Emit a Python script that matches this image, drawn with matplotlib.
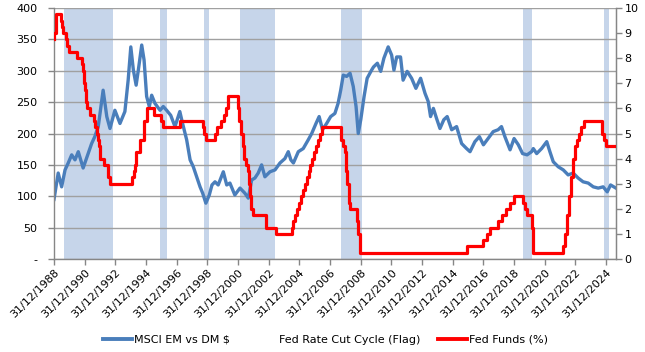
import matplotlib
matplotlib.use("Agg")
import matplotlib.pyplot as plt
from matplotlib.lines import Line2D
import pandas as pd

# ---------------- data ----------------
msci_dates = ["1988-12-31", "1989-04-10", "1989-07-01", "1989-09-20", "1989-12-05",
              "1990-02-25", "1990-05-15", "1990-08-01", "1990-11-25", "1991-03-25",
              "1991-06-15", "1991-08-30", "1991-11-20", "1992-03-15", "1992-06-10",
              "1992-08-25", "1992-12-20", "1993-04-20", "1993-08-15", "1993-11-01",
              "1994-01-03", "1994-03-05", "1994-05-10", "1994-07-01", "1994-09-20",
              "1994-11-15", "1995-01-15", "1995-03-20", "1995-05-15", "1995-08-01",
              "1995-11-30", "1996-02-15", "1996-05-05", "1996-08-10", "1996-11-20",
              "1997-03-15", "1997-05-20", "1997-08-25", "1997-11-15", "1998-01-30",
              "1998-04-20", "1998-07-10", "1998-09-10", "1998-11-25", "1999-02-15",
              "1999-04-20", "1999-07-01", "1999-09-15", "2000-01-15", "2000-04-05",
              "2000-06-20", "2000-10-15", "2001-02-15", "2001-06-10", "2001-09-01",
              "2001-11-20", "2002-02-05", "2002-04-25", "2002-07-15", "2002-10-01",
              "2003-01-30", "2003-05-30", "2003-09-25", "2004-01-20", "2004-04-10",
              "2004-06-10", "2004-08-10", "2004-12-05", "2005-04-01", "2005-07-30",
              "2005-10-20", "2006-01-30", "2006-04-15", "2006-07-05", "2006-10-10",
              "2007-01-15", "2007-04-25", "2007-07-10", "2007-09-10", "2007-11-10",
              "2008-01-30", "2008-04-20", "2008-07-05", "2008-09-10", "2008-11-01",
              "2008-12-31", "2009-03-20", "2009-06-01", "2009-09-15", "2009-10-30",
              "2010-01-30", "2010-04-20", "2010-07-05", "2010-10-15", "2011-01-05",
              "2011-03-01", "2011-05-05", "2011-08-05", "2011-10-05", "2012-01-10",
              "2012-04-25", "2012-08-05", "2012-11-25", "2013-03-10", "2013-05-25",
              "2013-07-20", "2013-09-25", "2013-12-10", "2014-03-01", "2014-06-01",
              "2014-08-20", "2014-12-05", "2015-04-01", "2015-07-30", "2015-11-25",
              "2016-02-15", "2016-06-10", "2016-09-25", "2016-12-30", "2017-04-20",
              "2017-08-20", "2017-12-15", "2018-03-05", "2018-05-25", "2018-09-25",
              "2018-12-30", "2019-04-10", "2019-07-20", "2019-11-05", "2020-02-20",
              "2020-04-01", "2020-06-20", "2020-10-15", "2021-02-15", "2021-05-01",
              "2021-07-20", "2021-11-15", "2022-03-15", "2022-07-10", "2022-11-05",
              "2023-03-05", "2023-07-01", "2023-10-30", "2024-02-28", "2024-06-25",
              "2024-10-20", "2025-01-25", "2025-04-15", "2025-08-20"]
msci_values = [95, 137, 115, 142, 153,
               166, 158, 171, 145, 168,
               184, 195, 211, 269, 227,
               208, 237, 216, 235, 285,
               338, 301, 277, 301, 341,
               317, 259, 243, 261, 248,
               237, 243, 237, 229, 211,
               235, 216, 190, 158, 147,
               131, 115, 105, 89, 102,
               118, 123, 118, 139, 118,
               121, 102, 113, 105, 97,
               126, 129, 137, 150, 131,
               139, 142, 153, 160, 171,
               158, 153, 171, 176, 190,
               200, 216, 227, 206, 216,
               227, 232, 248, 269, 293,
               291, 296, 275, 243, 200,
               222, 259, 288, 301, 306,
               312, 299, 320, 338, 325,
               301, 322, 322, 285, 299,
               288, 272, 288, 264, 251,
               227, 240, 224, 208, 222,
               227, 206, 211, 184, 176,
               171, 187, 195, 182, 192,
               203, 206, 211, 195, 174,
               192, 182, 168, 166, 171,
               176, 168, 176, 187, 171,
               155, 147, 142, 134, 137,
               129, 123, 121, 115, 113,
               115, 107, 118, 113]

fed_dates = ["1988-12-31", "1989-01-05", "1989-02-14", "1989-02-24", "1989-06-06",
             "1989-07-07", "1989-07-27", "1989-10-18", "1989-11-06", "1989-12-20",
             "1990-07-13", "1990-10-29", "1990-11-13", "1990-12-07", "1990-12-18",
             "1991-01-09", "1991-02-01", "1991-03-08", "1991-04-30", "1991-08-06",
             "1991-09-13", "1991-10-31", "1991-11-06", "1991-12-06", "1991-12-20",
             "1992-04-09", "1992-07-02", "1992-09-04", "1994-02-04", "1994-03-22",
             "1994-04-18", "1994-05-17", "1994-08-16", "1994-11-15", "1995-02-01",
             "1995-07-06", "1995-12-19", "1996-01-31", "1997-03-25", "1998-09-29",
             "1998-10-15", "1998-11-17", "1999-06-30", "1999-08-24", "1999-11-16",
             "2000-02-02", "2000-03-21", "2000-05-16", "2001-01-03", "2001-01-31",
             "2001-03-20", "2001-04-18", "2001-05-15", "2001-06-27", "2001-08-21",
             "2001-09-17", "2001-10-02", "2001-11-06", "2001-12-11", "2002-11-06",
             "2003-06-25", "2004-06-30", "2004-08-10", "2004-09-21", "2004-11-10",
             "2004-12-14", "2005-02-02", "2005-03-22", "2005-05-03", "2005-06-30",
             "2005-08-09", "2005-09-20", "2005-11-01", "2005-12-13", "2006-01-31",
             "2006-03-28", "2006-05-10", "2006-06-29", "2007-09-18", "2007-10-31",
             "2007-12-11", "2008-01-22", "2008-01-30", "2008-03-18", "2008-04-30",
             "2008-10-08", "2008-10-29", "2008-12-16", "2015-12-16", "2016-12-14",
             "2017-03-15", "2017-06-14", "2017-12-13", "2018-03-21", "2018-06-13",
             "2018-09-26", "2018-12-19", "2019-07-31", "2019-09-18", "2019-10-30",
             "2020-03-03", "2020-03-15", "2022-03-16", "2022-05-04", "2022-06-15",
             "2022-07-27", "2022-09-21", "2022-11-02", "2022-12-14", "2023-02-01",
             "2023-03-22", "2023-05-03", "2023-07-26", "2024-09-18", "2024-11-07",
             "2024-12-18", "2025-08-20"]
fed_values = [8.75, 9.0, 9.3125, 9.75, 9.5,
              9.25, 9.0, 8.75, 8.5, 8.25,
              8.0, 7.75, 7.5, 7.25, 7.0,
              6.75, 6.25, 6.0, 5.75, 5.5,
              5.25, 5.0, 4.75, 4.5, 4.0,
              3.75, 3.25, 3.0, 3.25, 3.5,
              3.75, 4.25, 4.75, 5.5, 6.0,
              5.75, 5.5, 5.25, 5.5, 5.25,
              5.0, 4.75, 5.0, 5.25, 5.5,
              5.75, 6.0, 6.5, 6.0, 5.5,
              5.0, 4.5, 4.0, 3.75, 3.5,
              3.0, 2.5, 2.0, 1.75, 1.25,
              1.0, 1.25, 1.5, 1.75, 2.0,
              2.25, 2.5, 2.75, 3.0, 3.25,
              3.5, 3.75, 4.0, 4.25, 4.5,
              4.75, 5.0, 5.25, 4.75, 4.5,
              4.25, 3.5, 3.0, 2.25, 2.0,
              1.5, 1.0, 0.25, 0.5, 0.75,
              1.0, 1.25, 1.5, 1.75, 2.0,
              2.25, 2.5, 2.25, 2.0, 1.75,
              1.25, 0.25, 0.5, 1.0, 1.75,
              2.5, 3.25, 4.0, 4.5, 4.75,
              5.0, 5.25, 5.5, 5.0, 4.75,
              4.5, 4.5]

cut_cycle_starts = ["1989-08-20", "1995-11-28", "1998-10-10", "2001-02-15",
                    "2007-09-10", "2019-07-20", "2024-11-05"]
cut_cycle_ends = ["1992-10-30", "1996-05-20", "1999-02-15", "2003-05-30",
                  "2009-01-20", "2020-02-20", "2025-02-28"]

left_ticks = [0, 50, 100, 150, 200, 250, 300, 350, 400]
left_labels = ["-", "50", "100", "150", "200", "250", "300", "350", "400"]
right_ticks = list(range(0, 11))
x_tick_years = list(range(1988, 2025, 2))

series_names = ["MSCI EM vs DM $", "Fed Rate Cut Cycle (Flag)", "Fed Funds (%)"]

# ---------------- plot ----------------
BLUE = "#4a7ebb"
RED = "#ff0000"
SHADE = "#c6d5ea"
GRID = "#a0a0a0"
SPINE = "#868686"

plt.rcParams["font.family"] = ["DejaVu Sans"]

fig = plt.figure(figsize=(6.45, 3.52), dpi=100)
W, H = 645, 352
x0, x1, ytop, ybot = 54, 616, 8, 259
ax = fig.add_axes([x0 / W, 1 - ybot / H, (x1 - x0) / W, (ybot - ytop) / H])

md = pd.to_datetime(msci_dates)
fd = pd.to_datetime(fed_dates)

for s, e in zip(cut_cycle_starts, cut_cycle_ends):
    ax.axvspan(pd.Timestamp(s), pd.Timestamp(e), color=SHADE, lw=0, zorder=0.2)

ax.plot(md, msci_values, color=BLUE, lw=2.4, zorder=2, solid_joinstyle="round")

ax.set_ylim(0, 400)
ax.set_xlim(pd.Timestamp("1988-12-31"), pd.Timestamp("2025-08-22"))
ax.set_yticks(left_ticks)
ax.set_yticklabels(left_labels)
ax.yaxis.grid(True, color=GRID, lw=1.0)
ax.set_axisbelow(True)

xt = [pd.Timestamp(f"{y}-12-31") for y in x_tick_years]
ax.set_xticks(xt)
ax.set_xticklabels([t.strftime("%d/%m/%Y") for t in xt], rotation=45,
                   ha="right", va="top", rotation_mode="anchor")

ax.spines["top"].set_visible(False)
for sp in ["left", "bottom", "right"]:
    ax.spines[sp].set_color(SPINE)
    ax.spines[sp].set_linewidth(1.0)

ax.tick_params(axis="y", which="both", length=4, color=SPINE, width=1,
               labelsize=8, pad=8, labelcolor="black")
ax.tick_params(axis="x", which="both", length=4, color=SPINE, width=1,
               labelsize=8, pad=2, labelcolor="black")

ax2 = ax.twinx()
ax2.step(fd, fed_values, where="post", color=RED, lw=2.3, zorder=3)
ax2.set_ylim(0, 10)
ax2.set_yticks(right_ticks)
ax2.set_yticklabels([str(v) for v in right_ticks])
ax2.tick_params(axis="y", length=4, color=SPINE, width=1, labelsize=8, pad=2,
                labelcolor="black")
ax2.spines["top"].set_visible(False)
ax2.spines["right"].set_color(SPINE)
ax2.spines["left"].set_visible(False)
ax2.spines["bottom"].set_visible(False)

handles = [Line2D([], [], color=BLUE, lw=2.8),
           Line2D([], [], color="none", lw=2.8),
           Line2D([], [], color=RED, lw=2.8)]
fig.legend(handles, series_names, loc="center", bbox_to_anchor=(0.505, 1 - 340 / H),
           ncol=3, frameon=False, fontsize=8, handlelength=2.6, handletextpad=0.2,
           columnspacing=1.6, borderaxespad=0, borderpad=0)

fig.savefig("out.png", dpi=100, facecolor="white")
